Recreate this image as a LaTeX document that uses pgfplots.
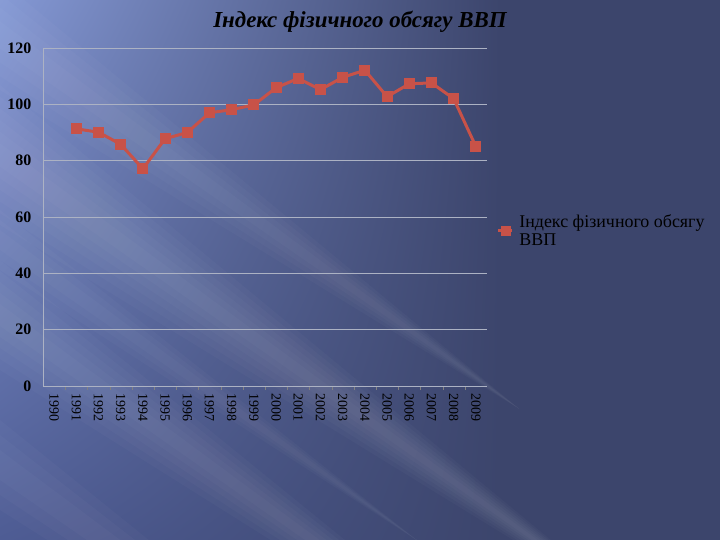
\documentclass[border=0pt]{standalone}
\usepackage{fontspec}
\setmainfont{Liberation Serif}
\usepackage{pgfplots}
\pgfplotsset{compat=1.18}
\usetikzlibrary{shadings}

\definecolor{bglight}{RGB}{132,152,212}
\definecolor{bgmid}{RGB}{78,92,148}
\definecolor{bgdark}{RGB}{60,69,108}
\definecolor{linered}{RGB}{200,82,72}
\definecolor{gridgray}{RGB}{172,178,195}

% soft light streak, tapering to the right: left height, half width, end x, layers
\newcommand{\streak}[4]{%
  \foreach \k in {1,...,#4}{%
    \pgfmathsetmacro{\w}{#2*\k/#4}%
    \pgfmathsetmacro{\ye}{#1-0.72*#3}%
    \fill[white, opacity=0.025] (0bp,#1bp+\w bp) -- (#3bp,\ye bp) -- (0bp,#1bp-\w bp) -- cycle;
  }}

\begin{document}
\begin{tikzpicture}
\useasboundingbox (0,0) rectangle (720bp,540bp);
% slide background: light top left, dark right, pale diagonal streaks
\fill[bgdark] (0,0) rectangle (720bp,540bp);
\shade[upper left=bglight, upper right=bgdark, lower left=bgmid, lower right=bgdark] (0,0) rectangle (500bp,540bp);
\streak{385}{70}{660}{6}
\streak{225}{55}{600}{5}
\streak{505}{55}{520}{4}
\streak{75}{45}{520}{3}
\streak{300}{30}{420}{3}

\node[font=\fontsize{23}{26}\selectfont\bfseries\itshape] at (360bp,518bp) {Індекс фізичного обсягу ВВП};

\begin{axis}[
    at={(43bp,154bp)}, anchor=south west,
    scale only axis,
    width=444bp, height=338bp,
    xmin=-0.5, xmax=19.5,
    ymin=0, ymax=120,
    ytick={0,20,...,120},
    xtick={0,...,19},
    xticklabels={1990,1991,1992,1993,1994,1995,1996,1997,1998,1999,2000,2001,2002,2003,2004,2005,2006,2007,2008,2009},
    x tick label style={rotate=-90, anchor=west, font=\fontsize{14}{16}\selectfont, text=black},
    y tick label style={font=\fontsize{16}{18}\selectfont\bfseries, text=black, xshift=-4bp},
    /pgf/number format/assume math mode=true,
    major x tick style={draw=none},
    minor x tick num=1,
    minor tick length=4bp,
    tick align=outside,
    ytick style={draw=none},
    ymajorgrids,
    grid style={gridgray, line width=0.8bp},
    axis x line*=bottom,
    axis y line*=left,
    axis line style={gridgray, line width=0.8bp, -},
    legend style={draw=none, fill=none, at={(1.015,0.52)}, anchor=north west,
        font=\fontsize{18}{18}\selectfont, cells={align=left, anchor=west},
        legend image code/.code={\draw[linered, line width=2.5bp] (0bp,0bp) -- (14bp,0bp);
            \fill[linered] (4bp,-3.5bp) rectangle (11bp,3.5bp);}},
    clip=false
]
\addplot[color=linered, line width=3bp, mark=square*, mark size=4bp, mark options={fill=linered, draw=linered}] coordinates {
    (1, 91.3) (2, 90.1) (3, 85.8) (4, 77.1) (5, 87.8) (6, 90.0)
    (7, 97.0) (8, 98.1) (9, 99.8) (10, 105.9) (11, 109.2) (12, 105.2)
    (13, 109.6) (14, 112.1) (15, 102.7) (16, 107.3) (17, 107.6) (18, 102.0)
    (19, 85.0)
};
\addlegendentry{\hspace*{4bp}Індекс фізичного обсягу\\\hspace*{4bp}ВВП}
\end{axis}
\end{tikzpicture}
\end{document}
